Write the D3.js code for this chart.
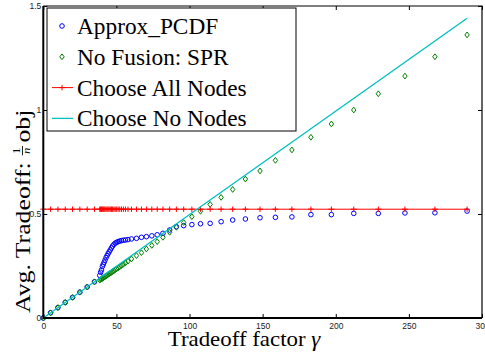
<!DOCTYPE html>
<html>
<head>
<meta charset="utf-8">
<script src="https://cdn.jsdelivr.net/npm/d3@7"></script>
<style>
  body { margin: 0; background: white; }
  .tick text { font-family: "Liberation Sans"; font-size: 8.5px; fill: #222; }
  .serif { font-family: "Liberation Serif"; }
</style>
</head>
<body>
<div id="chart"></div>
<script>
// tradeoff factor gamma (x values of the marker series)
var gamma = [0, 5, 10, 15, 20, 25, 30, 35,
  38.6, 39.2, 39.8, 40.4, 41.0, 41.6, 42.2, 42.9, 43.6, 44.3, 45.0, 45.8, 46.6, 47.4, 48.3, 49.2, 50.2, 51.2, 52.3, 53.5, 54.8, 56.2, 57.9,
  60.3, 63.7, 67.1, 70.5, 74.2, 77.9, 81.8, 86.4, 91, 96, 101.6, 107.5, 114.1, 121.6, 129.5, 138.2, 148.2, 158.7, 170, 183, 197, 212.3, 229.1, 247.3, 267.8, 289.8];

var approxPCDF = [0, 0.025, 0.05, 0.075, 0.099, 0.124, 0.149, 0.174,
  0.205, 0.220, 0.231, 0.248, 0.258, 0.268, 0.278, 0.290, 0.300, 0.309, 0.318, 0.327, 0.337, 0.346, 0.354, 0.360, 0.364, 0.367, 0.370, 0.372, 0.374, 0.375, 0.377,
  0.380, 0.383, 0.388, 0.391, 0.395, 0.400, 0.407, 0.423, 0.439, 0.444, 0.449, 0.453, 0.455, 0.463, 0.471, 0.476, 0.482, 0.484, 0.486, 0.497, 0.497, 0.503, 0.503, 0.505, 0.506, 0.514];

var noFusionSPR = [0, 0.025, 0.05, 0.075, 0.099, 0.124, 0.149, 0.174,
  0.182, 0.185, 0.187, 0.190, 0.193, 0.196, 0.199, 0.202, 0.205, 0.209, 0.212, 0.216, 0.219, 0.223, 0.227, 0.232, 0.236, 0.241, 0.246, 0.252, 0.258, 0.265, 0.273,
  0.284, 0.300, 0.314, 0.332, 0.349, 0.367, 0.388, 0.412, 0.436, 0.459, 0.487, 0.513, 0.546, 0.580, 0.618, 0.668, 0.707, 0.758, 0.808, 0.869, 0.933, 1.000, 1.078, 1.163, 1.256, 1.361];

// choose all nodes: flat level
var allNodesLevel = 0.523;
// choose no nodes: straight line, end points
var noNodesGamma = [0, 289.8];
var noNodesValue = [0, 1.441];

var xTicks = [0, 50, 100, 150, 200, 250, 300];
var yTicks = [0, 0.5, 1, 1.5];
var legendNames = ["Approx_PCDF", "No Fusion: SPR", "Choose All Nodes", "Choose No Nodes"];

var W = 485, H = 355;
var margin = {top: 6, right: 3, bottom: 37, left: 43.3},
    width = W - margin.left - margin.right,
    height = H - margin.top - margin.bottom;

var svg = d3.select("#chart").append("svg")
    .attr("width", W)
    .attr("height", H)
  .append("g")
    .attr("transform", "translate(" + margin.left + "," + margin.top + ")");

var x = d3.scaleLinear().domain([0, 300]).range([0, width]);
var y = d3.scaleLinear().domain([0, 1.5]).range([height, 0]);

// axes, ticks pointing inward
svg.append("g")
  .attr("transform", "translate(0," + height + ")")
  .call(d3.axisBottom(x).tickValues(xTicks).tickSizeInner(-4).tickSizeOuter(0).tickPadding(5))
  .select(".domain").remove();
svg.append("g")
  .call(d3.axisLeft(y).tickValues(yTicks).tickSizeInner(-4).tickSizeOuter(0).tickPadding(2).tickFormat(d3.format("")))
  .select(".domain").remove();
svg.append("g")
  .call(d3.axisTop(x).tickValues(xTicks).tickSizeInner(-4).tickSizeOuter(0).tickFormat(""))
  .select(".domain").remove();
svg.append("g")
  .attr("transform", "translate(" + width + ",0)")
  .call(d3.axisRight(y).tickValues(yTicks).tickSizeInner(-4).tickSizeOuter(0).tickFormat(""))
  .select(".domain").remove();

var pts = gamma.map(function(g, i) {
  return {g: g, a: approxPCDF[i], s: noFusionSPR[i], n: allNodesLevel};
});

// Approx_PCDF circles
svg.selectAll(".circ").data(pts).enter().append("circle")
  .attr("cx", function(d) { return x(d.g); })
  .attr("cy", function(d) { return y(d.a); })
  .attr("r", 2.3)
  .style("fill", "none").style("stroke", "#0000ff").style("stroke-width", 1);

// SPR diamonds
var diamond = "M0,-2.9L2.2,0L0,2.9L-2.2,0Z";
svg.selectAll(".diam").data(pts).enter().append("path")
  .attr("d", diamond)
  .attr("transform", function(d) { return "translate(" + x(d.g) + "," + y(d.s) + ")"; })
  .style("fill", "none").style("stroke", "#008000").style("stroke-width", 1);

// all nodes line with plus markers
var line = d3.line().x(function(d) { return x(d.g); }).y(function(d) { return y(d.n); });
svg.append("path").datum(pts).attr("d", line)
  .style("fill", "none").style("stroke", "#ff0000").style("stroke-width", 1);
var plus = "M-3,0H3M0,-2.7V2.7";
svg.selectAll(".plus").data(pts).enter().append("path")
  .attr("d", plus)
  .attr("transform", function(d) { return "translate(" + x(d.g) + "," + y(d.n) + ")"; })
  .style("fill", "none").style("stroke", "#ff0000").style("stroke-width", 1);

// no nodes line
var noNodes = noNodesGamma.map(function(g, i) { return {g: g, v: noNodesValue[i]}; });
svg.append("path").datum(noNodes)
  .attr("d", d3.line().x(function(d) { return x(d.g); }).y(function(d) { return y(d.v); }))
  .style("fill", "none").style("stroke", "#00bfbf").style("stroke-width", 1.3);

// frame
svg.append("path").attr("d", "M0,0H" + width + "V" + height)
  .style("fill", "none").style("stroke", "black").style("stroke-width", 1.2);
svg.append("path").attr("d", "M0,0V" + height + "H" + width)
  .style("fill", "none").style("stroke", "black").style("stroke-width", 2);

// legend
var lg = svg.append("g").attr("transform", "translate(" + (47 - margin.left) + "," + (8 - margin.top) + ")");
lg.append("rect").attr("width", 249).attr("height", 123)
  .style("fill", "white").style("stroke", "black").style("stroke-width", 1);
legendNames.forEach(function(name, i) {
  var by = 26 + i * 30.8;
  var row = lg.append("g").attr("transform", "translate(0," + by + ")");
  if (i == 0) {
    row.append("circle").attr("cx", 15).attr("cy", -8).attr("r", 2.3)
      .style("fill", "none").style("stroke", "#0000ff");
  } else if (i == 1) {
    row.append("path").attr("d", diamond).attr("transform", "translate(15,-8)")
      .style("fill", "none").style("stroke", "#008000");
  } else if (i == 2) {
    row.append("path").attr("d", "M5,-8H26").style("stroke", "#ff0000");
    row.append("path").attr("d", plus).attr("transform", "translate(15,-8)").style("stroke", "#ff0000");
  } else {
    row.append("path").attr("d", "M5,-8H26").style("stroke", "#00bfbf").style("stroke-width", 1.3);
  }
  // 22px text scaled up a bit (wider Palatino-like look)
  row.append("text").attr("class", "serif")
    .attr("transform", "translate(30,0) scale(1.06)")
    .style("font-size", "22px")
    .text(name);
});

// x label
svg.append("text").attr("class", "serif")
  .attr("transform", "translate(" + (244 - margin.left) + "," + (346 - margin.top) + ") scale(1.04,1)")
  .attr("text-anchor", "middle")
  .style("font-size", "22px")
  .text("Tradeoff factor ")
  .append("tspan").style("font-style", "italic").text("γ");

// y label with 1/n fraction
var yl = svg.append("g").attr("class", "serif")
  .attr("transform", "translate(" + (30 - margin.left) + "," + (313 - margin.top) + ") rotate(-90) scale(1.17,1)");
var t1 = yl.append("text").attr("x", 0).attr("y", 0).style("font-size", "22px").text("Avg. Tradeoff:");
var w1 = t1.node().getComputedTextLength();
var fx = w1 + 6;
yl.append("text").attr("x", fx + 4).attr("y", -10).attr("text-anchor", "middle").style("font-size", "11px").text("1");
yl.append("path").attr("d", "M" + fx + ",-7.5H" + (fx + 8)).style("stroke", "black").style("stroke-width", 0.8);
yl.append("text").attr("x", fx + 4).attr("y", 0).attr("text-anchor", "middle")
  .style("font-size", "11px").style("font-style", "italic").text("n");
yl.append("text").attr("x", fx + 11).attr("y", 0).style("font-size", "22px").text("obj");
</script>
</body>
</html>
